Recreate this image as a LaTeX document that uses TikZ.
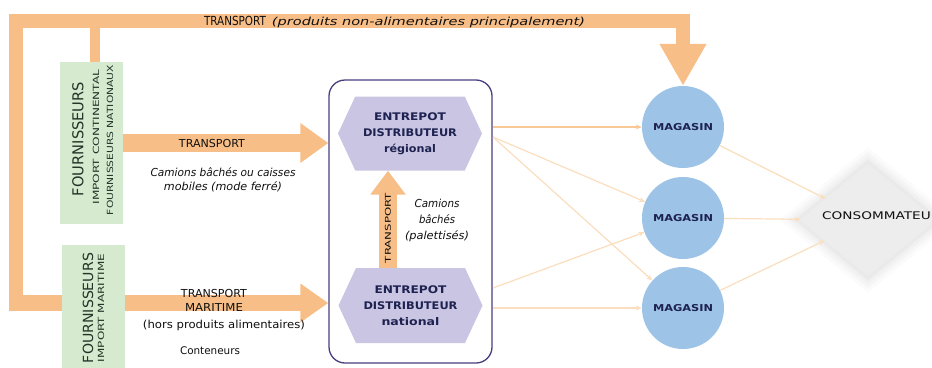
\documentclass[tikz,border=0pt]{standalone}
\usepackage{fontspec}
\setmainfont{DejaVu Sans}
\usepackage{graphicx}
\usetikzlibrary{shapes.geometric,shapes.symbols,arrows.meta,backgrounds}
\definecolor{orng}{RGB}{248,190,135}
\definecolor{grn}{RGB}{213,234,206}
\definecolor{lav}{RGB}{201,197,227}
\definecolor{navy}{RGB}{30,34,80}
\definecolor{framec}{RGB}{70,62,126}
\definecolor{blu}{RGB}{157,195,230}
\definecolor{thinc}{RGB}{248,200,150}
\definecolor{thinl}{RGB}{251,222,190}
\definecolor{gtxt}{RGB}{35,52,40}
\definecolor{tx}{RGB}{15,15,15}
\newcommand\wfit[2]{\resizebox{#1}{\height}{#2}}
\newcommand\fsz[1]{\fontsize{#1pt}{#1pt}\selectfont}
\begin{document}
\begin{tikzpicture}[x=1pt,y=-1pt,
  gbox/.style={fill=grn, draw=none, inner sep=0pt},
  gtext/.style={rotate=90, inner sep=0pt, text=gtxt},
  lbl/.style={inner sep=0pt, text=tx, align=center},
  hexa/.style={shape=signal, signal to=west and east, signal pointer angle=130,
    fill=lav, draw=none, minimum width=144pt, minimum height=74pt, inner sep=0pt,
    text=navy, align=center, font={\bfseries\fontsize{10.5pt}{16pt}\selectfont}},
  mag/.style={circle, fill=blu, minimum size=82pt, inner sep=0pt, text=navy,
    font={\bfseries\fsz{9.5}}},
  fatarrow/.style={draw=orng, line width=#1, line join=miter},
  fatarrow/.default=18pt,
  flow/.style={draw=thinc, line width=1.2pt, -{Stealth[length=6pt,width=5pt]}},
  flowl/.style={draw=thinl, line width=1.2pt, -{Stealth[length=6pt,width=5pt]}}
]
\useasboundingbox (0,0) rectangle (932,367);

% suppliers
\node[gbox, minimum width=63pt, minimum height=162pt] (f1) at (91.5,143) {};
\node[gbox, minimum width=63pt, minimum height=130pt] (f2) at (93.5,310) {};
\node[gtext, font=\fsz{15}] (f1a) at (78,139) {\wfit{114pt}{FOURNISSEURS}};
\node[gtext, font=\fsz{8.5}] (f1b) at (96,137) {\wfit{135pt}{IMPORT CONTINENTAL}};
\node[gtext, font=\fsz{8.5}] (f1c) at (110,140) {\wfit{150pt}{FOURNISSEURS NATIONAUX}};
\node[gtext, font=\fsz{14}] (f2a) at (88,308) {\wfit{110pt}{FOURNISSEURS}};
\node[gtext, font=\fsz{8.5}] (f2b) at (101,308) {\wfit{108pt}{IMPORT MARITIME}};

% depot container and warehouses
\node[draw=framec, line width=1.3pt, rounded corners=16pt, minimum width=163pt,
  minimum height=283pt, inner sep=0pt] (depot) at (410.5,221.5) {};
\node[hexa] (reg) at (410,133.5) {\wfit{72pt}{ENTREPOT}\\\wfit{94pt}{DISTRIBUTEUR}\\\wfit{52pt}{régional}};
\node[hexa, minimum height=75pt] (nat) at (410.5,305.5) {\wfit{72pt}{ENTREPOT}\\\wfit{94pt}{DISTRIBUTEUR}\\\wfit{58pt}{national}};

% stores
\node[mag] (m1) at (683,127) {\wfit{60pt}{MAGASIN}};
\node[mag] (m2) at (683,218) {\wfit{60pt}{MAGASIN}};
\node[mag] (m3) at (683,308) {\wfit{60pt}{MAGASIN}};

% consumer
\begin{scope}[on background layer]
  \foreach \s/\o in {1.30/0.06, 1.22/0.08, 1.15/0.10, 1.08/0.13}{
    \fill[gray!50, opacity=\o] (868,{220-56*\s}) -- ({868+68*\s},220) -- (868,{220+56*\s}) -- ({868-68*\s},220) -- cycle;
  }
\end{scope}
\node[diamond, minimum width=136pt, minimum height=112pt, fill=gray!14, draw=none, inner sep=0pt] (cons) at (868,220) {};
\node[lbl, anchor=west, font=\fsz{10.5}] (conslbl) at (822,216) {\wfit{118pt}{CONSOMMATEUR}};

% fat orange arrows
\begin{scope}[on background layer]
  \draw[fatarrow=14pt, -{Triangle[length=42pt,width=44pt]}] (16,305) -- (16,21) -- (683,21) -- (m1.north);
  \draw[fatarrow=10pt] (f1.north -| 95,0) -- (95,21);
  \draw[fatarrow=18pt, -{Triangle[length=28pt,width=38pt]}] (f1.east) -- (f1.east -| depot.west);
  \draw[fatarrow=16pt, -{Triangle[length=28pt,width=37pt]}] (9,303) -- (depot.west |- 0,303);
\end{scope}
\coordinate (vt) at (388,0);
\draw[fatarrow=18pt, -{Triangle[length=24pt,width=34pt]}] (nat.north -| vt) -- (reg.south -| vt);

% labels on orange arrows
\node[lbl, font=\fsz{12.5}] (t0) at (235,21) {\wfit{62pt}{TRANSPORT}};
\node[lbl, font={\itshape\fsz{11}}] (t0b) at (428.5,22) {\wfit{313pt}{(produits non-alimentaires principalement)}};
\node[lbl, font=\fsz{11}] (t1) at (212,143) {\wfit{66pt}{TRANSPORT}};
\node[lbl, font={\itshape\fontsize{11pt}{14pt}\selectfont}] (t1b) at (223,180) {\wfit{145pt}{Camions bâchés ou caisses}\\\wfit{118pt}{mobiles (mode ferré)}};
\node[lbl, font={\fontsize{11pt}{14pt}\selectfont}] (t2) at (214,300) {\wfit{66pt}{TRANSPORT}\\\wfit{58pt}{MARITIME}};
\node[lbl, font=\fsz{11}] (t2b) at (224,325) {\wfit{162pt}{(hors produits alimentaires)}};
\node[lbl, font=\fsz{10.5}] (t2c) at (210,351) {\wfit{60pt}{Conteneurs}};
\node[lbl, rotate=90, font=\fsz{8}] (t3) at (388,228) {\wfit{70pt}{TRANSPORT}};
\node[lbl, font={\itshape\fontsize{11pt}{16pt}\selectfont}] (t3b) at (437,220) {\wfit{45pt}{Camions}\\\wfit{36pt}{bâchés}\\\wfit{64pt}{(palettisés)}};

% thin flows
\coordinate (rOut) at (493,127);
\coordinate (rOut2) at (493,137);
\coordinate (nOut2) at (493,288);
\coordinate (nOut) at (493,308);
\draw[flow] (rOut) -- (m1);
\draw[flowl] (rOut2) -- (m2);
\draw[flowl] (rOut2) -- (m3);
\draw[flowl] (nOut2) -- (m2);
\draw[flowl] (nOut) -- (m3);
\draw[flowl] (m1) -- (cons);
\draw[flowl] (m2) -- (cons);
\draw[flowl] (m3) -- (cons);
\end{tikzpicture}
\end{document}
